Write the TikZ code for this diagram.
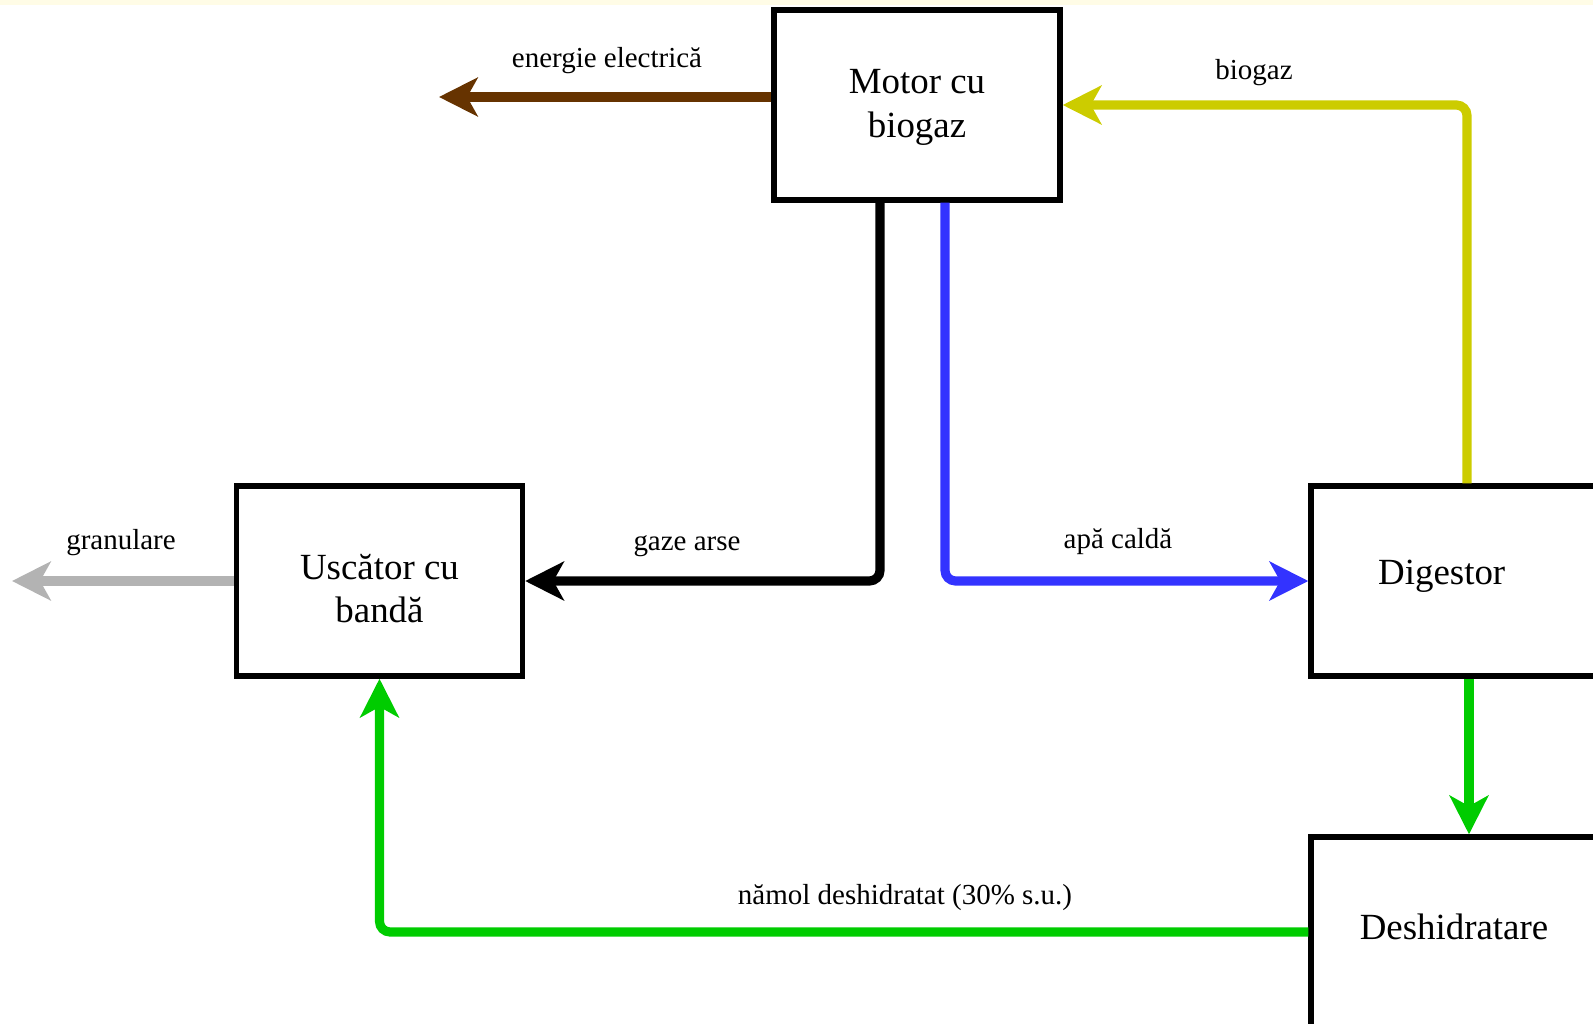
\documentclass[tikz,border=0pt]{standalone}
\usepackage{fontspec}
\setmainfont{Liberation Serif}
\usetikzlibrary{arrows.meta,calc,positioning}
\definecolor{maro}{HTML}{663300}
\definecolor{galben}{HTML}{CCCC00}
\definecolor{albastru}{HTML}{3333FF}
\definecolor{verde}{HTML}{00CC00}
\definecolor{gri}{HTML}{B3B3B3}
\definecolor{fundal}{HTML}{FFFCE6}
\tikzset{
  bloc/.style={draw,line width=3.1pt,minimum width=5.72cm,minimum height=3.8cm,
    align=center,font=\fontsize{21}{25}\selectfont},
  flux/.style={line width=5.2pt,rounded corners=6pt,
    -{Stealth[length=22pt,width=22pt,inset=6pt]}},
  eticheta/.style={font=\fontsize{16.5}{19}\selectfont}
}
\begin{document}
\begin{tikzpicture}[x=0.02cm,y=-0.02cm]
    \useasboundingbox (0,0) rectangle (1593,1024);
    \fill[fundal] (0,0) rectangle (1593,5);
    % Blocurile instalatiei
    \node[bloc] (motor) at (917,105) {\rule{0pt}{17pt}Motor cu\\biogaz};
    \node[bloc] (uscator) at (379.5,581) {\rule{0pt}{23pt}Uscător cu\\bandă};
    \node[bloc,text depth=10pt] (digestor) at (1454,581) {Digestor\hspace{14pt}};
    \node[bloc,text depth=5.6pt] (deshidr) at (1454,932) {Deshidratare};
    % Capete libere ale iesirilor
    \coordinate (elec) at (439,97);
    \coordinate (gran) at (12,581);
    % Fluxuri
    \draw[flux,maro] (motor.west |- elec) -- (elec);
    \draw[flux,galben] ($(digestor.north)+(13,0)$) |- (motor.east);
    \draw[flux,black] ($(motor.south)+(-37,0)$) |- (uscator.east);
    \draw[flux,albastru] ($(motor.south)+(28,0)$) |- (digestor.west);
    \draw[flux,gri] (uscator.west) -- (gran);
    \draw[flux,verde] ($(digestor.south)+(15,0)$) -- ($(deshidr.north)+(15,0)$);
    \draw[flux,verde] (deshidr.west) -| (uscator.south);
    % Etichete
    \node[eticheta] (l-elec) at (607,61) {energie electrică};
    \node[eticheta] (l-biogaz) at (1254,73) {biogaz};
    \node[eticheta] (l-gaze) at (687,546) {gaze arse};
    \node[eticheta] (l-apa) at (1118,542) {apă caldă};
    \node[eticheta] (l-gran) at (121,543) {granulare};
    \node[eticheta] (l-namol) at (905,898) {nămol deshidratat (30\% s.u.)};
\end{tikzpicture}
\end{document}
